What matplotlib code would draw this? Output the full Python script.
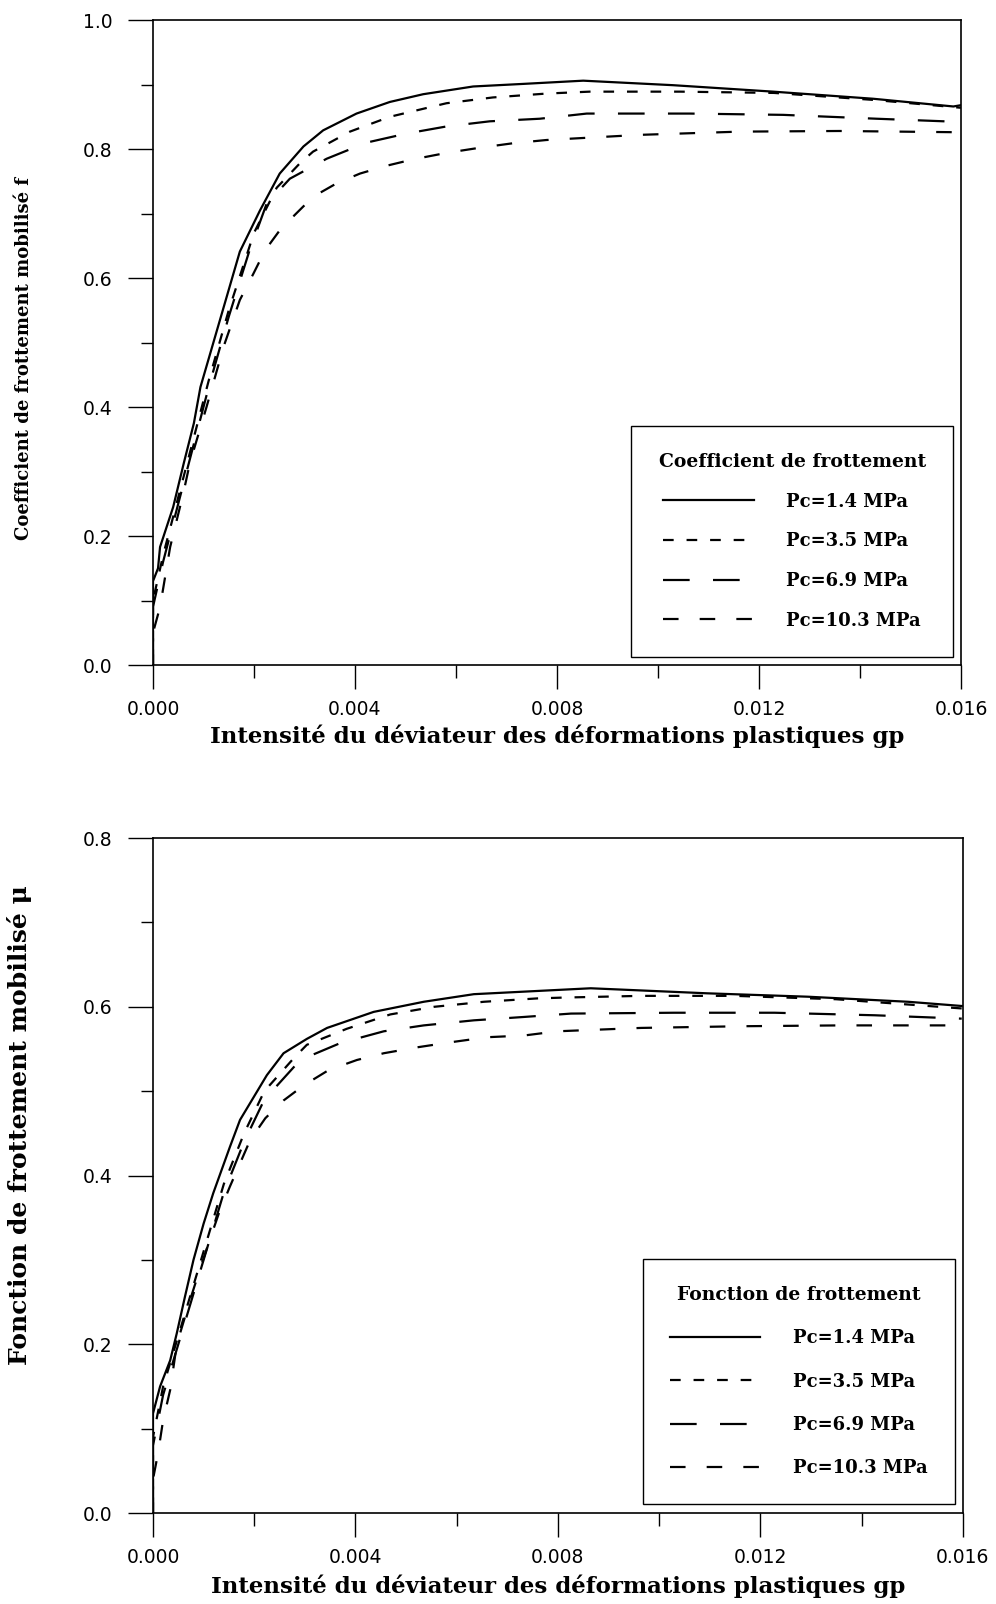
import matplotlib
matplotlib.use("Agg")
import matplotlib.pyplot as plt
from matplotlib.ticker import MultipleLocator, FormatStrFormatter

# --- data ---
labels = ["Pc=1.4 MPa", "Pc=3.5 MPa", "Pc=6.9 MPa", "Pc=10.3 MPa"]

# top panel: coefficient de frottement f
f_x_14 = [0, 0, 0.0001, 0.00014, 0.0004, 0.00061, 0.00081, 0.00094, 0.00172, 0.00212, 0.00251, 0.00298, 0.00337,
          0.00403, 0.00469, 0.00535, 0.00634, 0.00733, 0.00852, 0.0103, 0.01228, 0.01426, 0.01585, 0.016]
f_y_14 = [0, 0.13, 0.15, 0.183, 0.245, 0.313, 0.375, 0.431, 0.641, 0.705, 0.762, 0.804, 0.829,
          0.855, 0.873, 0.885, 0.897, 0.901, 0.906, 0.899, 0.889, 0.878, 0.866, 0.868]
f_x_35 = [0, 0, 0.0002, 0.0005, 0.0008, 0.0011, 0.0015, 0.0020, 0.00245, 0.00291, 0.00317, 0.0039, 0.00469,
          0.00581, 0.00673, 0.00779, 0.00865, 0.01044, 0.0123, 0.0143, 0.016]
f_y_35 = [0, 0.10, 0.17, 0.26, 0.35, 0.44, 0.55, 0.67, 0.74, 0.778, 0.796, 0.827, 0.850,
          0.871, 0.880, 0.886, 0.889, 0.889, 0.887, 0.876, 0.864]
f_x_69 = [0, 0, 0.0002, 0.0005, 0.0008, 0.0011, 0.0015, 0.0019, 0.00225, 0.00271, 0.00344, 0.00423, 0.00502,
          0.00581, 0.00667, 0.00766, 0.00859, 0.01063, 0.01248, 0.01433, 0.016]
f_y_69 = [0, 0.09, 0.16, 0.25, 0.34, 0.43, 0.54, 0.64, 0.715, 0.754, 0.785, 0.810, 0.824,
          0.835, 0.843, 0.847, 0.855, 0.855, 0.853, 0.847, 0.842]
f_x_103 = [0, 0, 0.00014, 0.00034, 0.0006, 0.00073, 0.00106, 0.0014, 0.00172, 0.00199, 0.00222, 0.00251, 0.00281,
           0.00317, 0.00364, 0.0041, 0.00462, 0.00515, 0.00581, 0.00647, 0.00713, 0.00779, 0.00964, 0.01162, 0.0136, 0.016]
f_y_103 = [0, 0.05, 0.09, 0.183, 0.266, 0.313, 0.40, 0.494, 0.566, 0.607, 0.643, 0.674, 0.698,
           0.726, 0.747, 0.762, 0.774, 0.784, 0.794, 0.802, 0.809, 0.814, 0.822, 0.827, 0.828, 0.826]

# bottom panel: fonction de frottement mu
m_x_14 = [0, 0, 0.00014, 0.00034, 0.00047, 0.00063, 0.0008, 0.001, 0.00119, 0.00152, 0.00172, 0.00199, 0.00225,
          0.00258, 0.00304, 0.00344, 0.00436, 0.00535, 0.00634, 0.00766, 0.00865, 0.01096, 0.01294, 0.01492, 0.01598]
m_y_14 = [0, 0.118, 0.15, 0.181, 0.213, 0.256, 0.300, 0.343, 0.379, 0.434, 0.466, 0.493, 0.519,
          0.545, 0.562, 0.575, 0.594, 0.606, 0.615, 0.619, 0.622, 0.616, 0.612, 0.606, 0.601]
m_x_35 = [0, 0, 0.0002, 0.0005, 0.0008, 0.0011, 0.0014, 0.0018, 0.0022, 0.00278, 0.00304, 0.00383, 0.00469,
          0.00555, 0.00654, 0.0076, 0.00813, 0.00964, 0.0115, 0.0135, 0.016]
m_y_35 = [0, 0.09, 0.15, 0.21, 0.27, 0.33, 0.39, 0.45, 0.50, 0.539, 0.555, 0.574, 0.591,
          0.600, 0.606, 0.610, 0.611, 0.613, 0.613, 0.609, 0.598]
m_x_69 = [0, 0, 0.0002, 0.0005, 0.0008, 0.0011, 0.0014, 0.0018, 0.0022, 0.00291, 0.0037, 0.00456, 0.00535,
          0.00634, 0.00733, 0.00826, 0.0103, 0.01228, 0.01426, 0.01598]
m_y_69 = [0, 0.08, 0.14, 0.20, 0.26, 0.32, 0.38, 0.44, 0.49, 0.537, 0.557, 0.571, 0.578,
          0.584, 0.588, 0.592, 0.593, 0.593, 0.590, 0.586]
m_x_103 = [0, 0, 0.0001, 0.0002, 0.00034, 0.00047, 0.00073, 0.0009, 0.0011, 0.0013, 0.00152, 0.00192, 0.00222,
           0.00258, 0.00298, 0.00347, 0.00403, 0.00456, 0.00522, 0.00588, 0.00661, 0.00733, 0.00799, 0.00964,
           0.01162, 0.0136, 0.01558, 0.016]
m_y_103 = [0, 0.04, 0.071, 0.11, 0.146, 0.20, 0.252, 0.284, 0.320, 0.355, 0.387, 0.442, 0.468,
           0.489, 0.507, 0.525, 0.537, 0.545, 0.552, 0.558, 0.564, 0.566, 0.571, 0.575,
           0.577, 0.578, 0.578, 0.578]

# dash patterns (in units of linewidth)
dashes = [None, (4.8, 5.8), (12, 10.5), (7, 9.5)]

SERIF = "DejaVu Serif"
SANS = "DejaVu Sans"
xlabel = "Intensité du déviateur des déformations plastiques gp"


def draw_panel(ax, curves, ymax, ylabel, legend_title, ylab_y, xlab_y, ylab_size, lspace):
    for (x, y), lab, d in zip(curves, labels, dashes):
        line, = ax.plot(x, y, color="black", lw=1.6, label=lab)
        if d is not None:
            line.set_dashes(d)
    ax.set_xlim(0, 0.016)
    ax.set_ylim(0, ymax)
    ax.xaxis.set_major_locator(MultipleLocator(0.004))
    ax.xaxis.set_minor_locator(MultipleLocator(0.002))
    ax.yaxis.set_major_locator(MultipleLocator(0.2))
    ax.yaxis.set_minor_locator(MultipleLocator(0.1))
    ax.xaxis.set_major_formatter(FormatStrFormatter("%.3f"))
    ax.yaxis.set_major_formatter(FormatStrFormatter("%.1f"))
    ax.tick_params(which="major", direction="out", length=18, width=1.0, labelsize=13.5)
    ax.tick_params(axis="y", which="major", pad=11)
    ax.tick_params(axis="x", which="major", pad=8, length=17)
    ax.tick_params(which="minor", direction="out", length=9, width=1.0)
    for lbl in ax.get_xticklabels() + ax.get_yticklabels():
        lbl.set_family(SANS)
    for sp in ax.spines.values():
        sp.set_linewidth(1.2)
    ax.set_xlabel(xlabel, family=SERIF, fontweight="bold", fontsize=16.5)
    ax.xaxis.set_label_coords(0.5, xlab_y)
    ax.set_ylabel(ylabel, family=SERIF, fontweight="bold", fontsize=ylab_size)
    ax.yaxis.set_label_coords(-0.149, ylab_y)
    leg = ax.legend(loc="lower right", bbox_to_anchor=(0.99, 0.013), borderaxespad=0,
                    title=legend_title, fancybox=False, framealpha=1, edgecolor="black",
                    handlelength=5.0, handletextpad=1.8, labelspacing=lspace, borderpad=1.5,
                    prop={"family": SERIF, "weight": "bold", "size": 13},
                    title_fontproperties={"family": SERIF, "weight": "bold", "size": 13.5})
    leg.get_frame().set_linewidth(1.0)
    return leg


fig = plt.figure(figsize=(9.96, 16.04), dpi=100)
ax1 = fig.add_axes([0.1536, 0.5854, 0.8112, 0.4021])
ax2 = fig.add_axes([0.1536, 0.0567, 0.8130, 0.4208])

draw_panel(ax1, [(f_x_14, f_y_14), (f_x_35, f_y_35), (f_x_69, f_y_69), (f_x_103, f_y_103)],
           1.0, "Coefficient de frottement mobilisé f", "Coefficient de frottement", 0.476, -0.092, 13, 1.2)
draw_panel(ax2, [(m_x_14, m_y_14), (m_x_35, m_y_35), (m_x_69, m_y_69), (m_x_103, m_y_103)],
           0.8, "Fonction de frottement mobilisé μ", "Fonction de frottement", 0.575, -0.091, 18, 1.4)

fig.savefig("out.png", dpi=100)
